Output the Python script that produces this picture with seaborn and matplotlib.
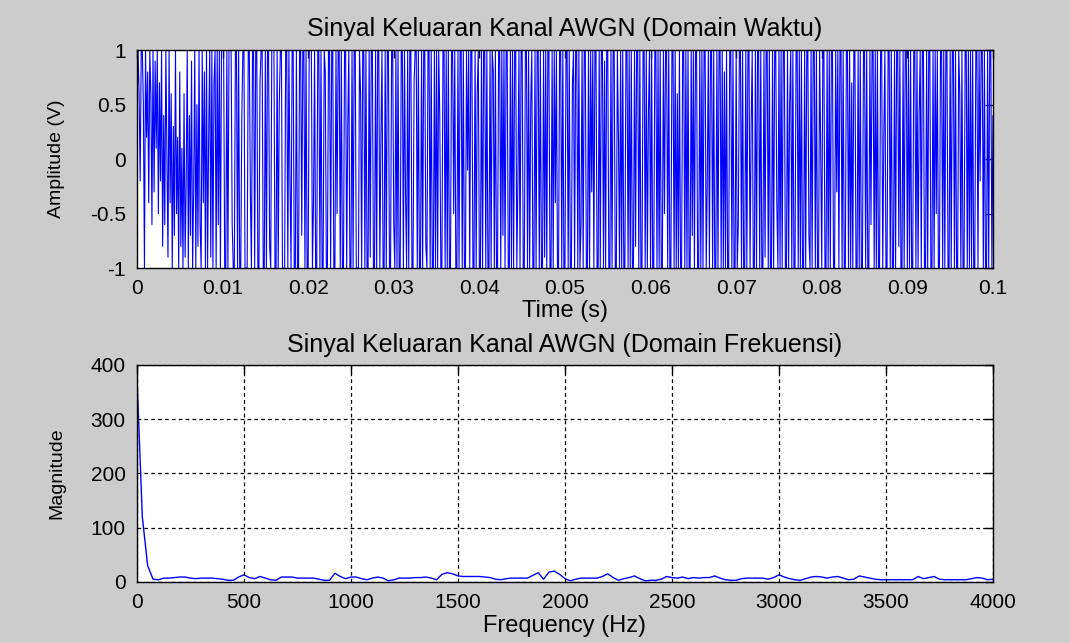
import matplotlib.pyplot as plt
import matplotlib.ticker as mticker
import seaborn as sns
import pandas as pd
import numpy as np

# MATLAB-ish look: gray figure, white axes, inward ticks on every side
COLORS = {
    "bg": "#cccccc",
    "panel": "#ffffff",
    "line": "#0000ff",
    "text": "#000000",
}

# --- data ----------------------------------------------------------------
# time domain: samples every 0.125 ms (8 kHz), amplitude in tenths of a volt
FS_TIME = 8000
amp_tenths = [
    3, 10, 6, -2, 10, 10, 5, -10, 10, 2, 8, -4, 10, 6, -6, 10, -3, 9, 1, 10,
    -5, 7, -2, 10, -8, 4, -6, 10, 0, -9, 10, -4, 6, -10, 3, -7, 10, -5, 2, -10,
    8, -8, 1, -10, 6, -9, -2, 10, -10, 4, -7, 9, -10, -3, 10, -10, 5, -8, 10, -6,
    -10, 10, -4, 8, -10, 10, -10, 2, 10, -9, 10, -10, 7, 10, -10, 10, -6, 10, -10, 10,
    10, 10, -10, -10, 10, -10, 10, 10, 10, -6, -10, -10, 10, 10, -10, 10, -10, -10, 4, 10,
    10, -10, -10, -10, 10, 10, -3, -10, 10, 10, -10, 10, 10, -10, -10, 7, 10, 10, -10, -10,
    10, -10, 10, 10, -8, -10, 10, 10, 10, -10, -10, 10, -10, 5, 10, 10, -10, -10, -10, 10,
    10, -10, 10, -2, -10, 10, 10, -10, -10, 10, -10, -10, 10, 10, -7, 10, 10, -10, 10, -10,
    -10, 10, 10, 10, -10, -4, 10, -10, -10, 10, 10, -10, 10, -10, -10, 10, 8, -10, -10, 10,
    10, -10, 10, 10, -10, -10, 10, -5, 10, 10, -10, 10, -10, -10, 10, 10, -10, 3, 10, -10,
    -10, 10, -10, 10, 10, -10, -10, -10, 10, 6, -10, 10, 10, -10, 10, -10, -10, 10, -9, 10,
    10, -10, -10, 10, -10, 10, 10, -10, 2, 10, -10, -10, 10, -10, 10, 10, -10, -10, 10, 10,
    -6, -10, 10, -10, 10, -10, -10, 10, 10, -10, 10, -3, -10, 10, -10, 10, 10, -10, -10, 7,
    10, 10, -10, 10, -10, -10, 10, -10, 10, 10, -8, -10, 10, 10, -10, 10, -10, -10, 10, -10,
    10, -10, 10, 4, -10, -10, 10, 10, -10, 10, -10, 10, -10, -10, 10, 10, -5, 10, -10, -10,
    10, -10, 10, 10, -10, 10, -10, -10, 10, -1, 10, -10, 10, 10, -10, -10, 10, -10, 6, 10,
    -10, -10, 10, -10, 10, 10, -10, 10, -10, -10, 10, -10, 10, 8, -10, 10, -10, -10, 10, 10,
    -10, 10, -7, 10, -10, 10, 10, -10, -10, 10, -10, 10, -10, 10, 10, -10, -2, 10, -10, 10,
    10, -10, -10, 10, 10, -10, 10, -10, 5, 10, -10, -10, 10, -10, 10, 10, -10, 10, -10, -10,
    10, -9, 10, -10, 10, 10, -10, -10, 10, -10, 10, -4, 10, -10, -10, 10, 10, -10, 10, -10,
    -10, 10, 10, -10, 10, -10, -10, 7, 10, -10, 10, 10, -10, 10, -10, -6, 10, -10, 10, 10,
    -10, -10, 10, -10, 10, -3, 10, -10, 10, 10, -10, -10, 10, -10, 10, 10, -10, 9, -10, 10,
    10, -10, -10, 10, -10, 10, 10, -10, -10, 10, 2, -10, 10, -10, 10, -10, -10, 10, 10, -10,
    10, -10, 10, -10, -10, 10, -8, 10, 10, -10, 10, -10, -10, 10, 10, -10, 10, -10, 4, 10,
    -10, 10, -10, -10, 10, 10, -10, 10, -10, 10, -10, -10, 10, -5, 10, 10, -10, 10, -10, -10,
    10, 10, -10, 10, -10, 6, -10, 10, -10, -10, 10, 10, -10, 10, -10, 10, -10, -10, 10, -7,
    10, -10, 10, 10, -10, -10, 10, -10, 10, -10, 10, 10, -10, -2, 10, -10, 10, 10, -10, 10,
    -10, -10, 10, -10, 10, 10, -10, 10, -10, 8, -10, 10, -10, -10, 10, 10, -10, 10, -10, -10,
    10, -10, -6, 10, 10, -10, 10, -10, -10, 10, -10, 10, 10, -10, 3, 10, -10, -10, 10, -10,
    10, 10, -10, 10, -10, -10, 10, -9, 10, 10, -10, 10, -10, -10, 10, -10, 10, 10, -4, -10,
    10, -10, 10, -10, 10, 10, -10, -10, 10, -10, 5, 10, -10, 10, -10, -10, 10, 10, -10, 10,
    -10, 10, -10, -10, 10, -10, 10, 10, -7, -10, 10, -10, 10, 10, -10, 10, -10, -10, 10, 1,
    -10, 10, 10, -10, -10, 10, -10, 10, -10, 10, 10, -10, -10, 10, -3, 10, -10, 10, 10, -10,
    10, -10, -10, 10, 10, -10, 10, -10, 7, -10, 10, 10, -10, -10, 10, -10, 10, -10, -10, 10,
    10, -10, 10, -10, -10, 10, -6, 10, 10, -10, 10, -10, 10, -10, -10, 10, 10, -10, 2, 10,
    -10, -10, 10, 10, -10, 10, -10, -10, 10, -10, 10, 10, -8, 10, -10, -10, 10, -10, 10, 10,
    -10, 10, -10, 10, -10, -10, 10, 10, -10, 10, -10, 4, 10, -10, 10, 10, -10, -10, 10, -10,
    10, 10, -10, -10, 10, -10, 10, -5, 10, -10, -10, 10, 10, -10, 10, -10, 10, 10, -10, -10,
    10, -10, 10, 10, -10, 10, -10, -10, 10, 6, -10, 10, -10, -10, 10, 10, -10, 10, -10, 10,
    -10, 10, -10, -10, 10, 10, -10, 10, -2, 10, 10, -10, 10, -10, -10, 10, -10, 10, 10, -10,
    4,
]

# frequency domain: one value every 25 Hz from 0 to 4000 Hz
F_MAX = 4000
magnitude = [
    378, 120, 30, 5, 4, 7, 7, 8, 9, 9, 7, 6, 7, 7, 7, 6, 5, 3, 3, 9,
    13, 8, 6, 10, 7, 4, 3, 9, 9, 9, 7, 7, 7, 7, 5, 3, 3, 16, 10, 6,
    9, 9, 6, 4, 7, 9, 7, 2, 4, 7, 7, 7, 8, 8, 9, 7, 4, 14, 17, 15,
    11, 10, 10, 10, 10, 9, 8, 5, 4, 6, 7, 7, 7, 7, 12, 17, 5, 18, 20, 14,
    6, 2, 5, 7, 7, 7, 7, 10, 15, 8, 3, 6, 8, 11, 6, 2, 3, 3, 5, 10,
    8, 7, 9, 6, 8, 7, 8, 8, 11, 7, 4, 3, 3, 6, 7, 7, 7, 7, 5, 8,
    13, 9, 6, 4, 3, 6, 9, 10, 9, 7, 9, 10, 7, 4, 5, 11, 9, 7, 5, 4,
    4, 4, 4, 4, 4, 4, 10, 6, 8, 10, 5, 4, 4, 4, 4, 4, 6, 8, 7, 4,
    5,
]

time_ticks = [0, 0.01, 0.02, 0.03, 0.04, 0.05, 0.06, 0.07, 0.08, 0.09, 0.1]
time_tick_labels = ["0", "0.01", "0.02", "0.03", "0.04", "0.05", "0.06", "0.07", "0.08", "0.09", "0.1"]
amp_ticks = [-1, -0.5, 0, 0.5, 1]
amp_tick_labels = ["-1", "-0.5", "0", "0.5", "1"]
freq_ticks = [0, 500, 1000, 1500, 2000, 2500, 3000, 3500, 4000]
mag_ticks = [0, 100, 200, 300, 400]

time_df = pd.DataFrame({
    "t": np.arange(len(amp_tenths)) / FS_TIME,
    "amp": np.array(amp_tenths) / 10.0,
})
freq_df = pd.DataFrame({
    "f": np.linspace(0, F_MAX, len(magnitude)),
    "mag": magnitude,
})

sns.set_style("white")
plt.rcParams["font.family"] = ["Liberation Sans", "DejaVu Sans"]
TICK_FS = 15
TITLE_FS = 18
XLAB_FS = 17
YLAB_FS = 14


def _style_ax(ax):
    ax.set_facecolor(COLORS["panel"])
    for spine in ax.spines.values():
        spine.set_edgecolor(COLORS["text"])
        spine.set_linewidth(1.0)
    ax.tick_params(direction="in", top=True, right=True, length=6, width=1,
                   colors=COLORS["text"], labelsize=TICK_FS)
    ax.tick_params(axis="x", pad=8)
    ax.tick_params(axis="y", pad=8)


fig = plt.figure(figsize=(10.7, 6.43), dpi=100)
fig.patch.set_facecolor(COLORS["bg"])

ax1 = fig.add_axes([0.128, 0.583, 0.80, 0.339])
ax2 = fig.add_axes([0.128, 0.095, 0.80, 0.3375])

# top: time domain
sns.lineplot(data=time_df, x="t", y="amp", ax=ax1, color=COLORS["line"],
             linewidth=0.8, estimator=None, sort=False)
_style_ax(ax1)
ax1.set_xlim(0, 0.1)
ax1.set_ylim(-1, 1)
ax1.xaxis.set_major_locator(mticker.FixedLocator(time_ticks))
ax1.set_xticklabels(time_tick_labels)
ax1.yaxis.set_major_locator(mticker.FixedLocator(amp_ticks))
ax1.set_yticklabels(amp_tick_labels)
ax1.set_title("Sinyal Keluaran Kanal AWGN (Domain Waktu)", fontsize=TITLE_FS,
              color=COLORS["text"], pad=10)
ax1.set_xlabel("Time (s)", fontsize=XLAB_FS, color=COLORS["text"], labelpad=1)
ax1.set_ylabel("Amplitude (V)", fontsize=YLAB_FS, color=COLORS["text"])
ax1.yaxis.set_label_coords(-0.084, 0.5)

# bottom: frequency domain
sns.lineplot(data=freq_df, x="f", y="mag", ax=ax2, color=COLORS["line"],
             linewidth=1.0, estimator=None, sort=False)
_style_ax(ax2)
ax2.set_xlim(0, 4000)
ax2.set_ylim(0, 400)
ax2.xaxis.set_major_locator(mticker.FixedLocator(freq_ticks))
ax2.yaxis.set_major_locator(mticker.FixedLocator(mag_ticks))
ax2.grid(True, color=COLORS["text"], linestyle=(0, (3, 2.5)), linewidth=0.9)
ax2.set_axisbelow(False)
ax2.set_title("Sinyal Keluaran Kanal AWGN (Domain Frekuensi)", fontsize=TITLE_FS,
              color=COLORS["text"], pad=9)
ax2.set_xlabel("Frequency (Hz)", fontsize=XLAB_FS, color=COLORS["text"], labelpad=2)
ax2.set_ylabel("Magnitude", fontsize=YLAB_FS, color=COLORS["text"])
ax2.yaxis.set_label_coords(-0.084, 0.5)

fig.savefig("out.png", dpi=100, facecolor=fig.get_facecolor())
